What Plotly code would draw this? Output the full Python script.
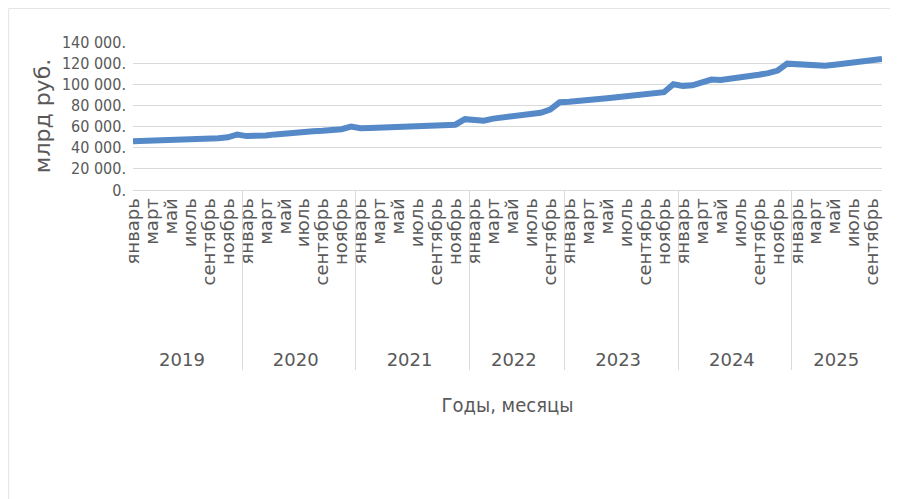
import plotly.graph_objects as go

years = ["2019", "2020", "2021", "2022", "2023", "2024", "2025"]
month_names = ["январь", "февраль", "март", "апрель", "май", "июнь",
               "июль", "август", "сентябрь", "октябрь", "ноябрь", "декабрь"]

values_2019 = [46200, 46400, 46700, 47000, 47300, 47600, 47900, 48200, 48500, 49000, 49800, 52500]
values_2020 = [51000, 50800, 51600, 52600, 53600, 54400, 55000, 55500, 56000, 56600, 57500, 60000]
values_2021 = [58500, 58700, 59000, 59300, 59600, 60000, 60300, 60500, 60800, 61100, 61800, 67000]
values_2022 = [66500, 65500, 67500, 68500, 69000, 70000, 71000, 73000, 76000, 83000]
values_2023 = [83500, 84000, 85000, 86000, 86800, 87800, 88500, 89500, 90500, 91300, 92500, 100000]
values_2024 = [98500, 99000, 102500, 104500, 104000, 105000, 106500, 108000, 109000, 110500, 113000, 119500]
values_2025 = [119000, 118500, 118000, 117500, 118500, 119500, 120500, 121500, 122500, 124000]

y_tick_values = [0, 20000, 40000, 60000, 80000, 100000, 120000, 140000]
y_tick_labels = ["0.", "20 000.", "40 000.", "60 000.", "80 000.", "100 000.", "120 000.", "140 000."]

series = [values_2019, values_2020, values_2021, values_2022, values_2023, values_2024, values_2025]

LABEL_PAD = 8
outer, inner, yvals = [], [], []
for yr, vals in zip(years, series):
    for j, v in enumerate(vals):
        outer.append(yr)
        if j % 2 == 0:
            inner.append("\u00a0" * LABEL_PAD + month_names[j])
        else:
            inner.append("\u00a0" * (j // 2 + 1))
        yvals.append(v)

GREY = "#595959"
GRID = "#d9d9d9"

fig = go.Figure()
fig.add_trace(go.Scatter(
    x=[outer, inner], y=yvals, mode="lines",
    line=dict(color="#5689c8", width=6),
    showlegend=False, hoverinfo="skip"))

fig.update_layout(
    width=890, height=491,
    margin=dict(l=125, r=16, t=34, b=309),
    paper_bgcolor="white", plot_bgcolor="white",
    xaxis=dict(
        type="multicategory",
        tickmode="linear", tick0=0, dtick=1,
        tickangle=-90,
        tickfont=dict(family="DejaVu Sans, sans-serif", size=18, color=GREY),
        showdividers=True, dividercolor=GRID, dividerwidth=1,
        showline=True, linecolor=GRID, linewidth=1,
        showgrid=False, ticks="",
        title=dict(text="Годы, месяцы", standoff=29,
                   font=dict(family="Liberation Sans Narrow, DejaVu Sans Condensed, sans-serif", size=20, color=GREY)),
    ),
    yaxis=dict(
        range=[0, 140000],
        tickvals=y_tick_values, ticktext=y_tick_labels,
        tickfont=dict(family="Liberation Sans Narrow, DejaVu Sans Condensed, sans-serif", size=16, color=GREY),
        showgrid=True, gridcolor=GRID, gridwidth=1,
        zeroline=False, showline=False, ticks="", ticklabelstandoff=6,
        title=dict(text="млрд руб.", standoff=5,
                   font=dict(family="DejaVu Sans, sans-serif", size=22, color=GREY)),
    ),
    shapes=[
        dict(type="line", xref="paper", yref="paper", x0=-0.166, x1=1.03, y0=1.226, y1=1.226,
             line=dict(color="#e3e3e3", width=1)),
        dict(type="line", xref="paper", yref="paper", x0=-0.166, x1=-0.166, y0=1.226, y1=-2.1,
             line=dict(color="#e3e3e3", width=1)),
    ],
)

fig.write_html("out.html")
